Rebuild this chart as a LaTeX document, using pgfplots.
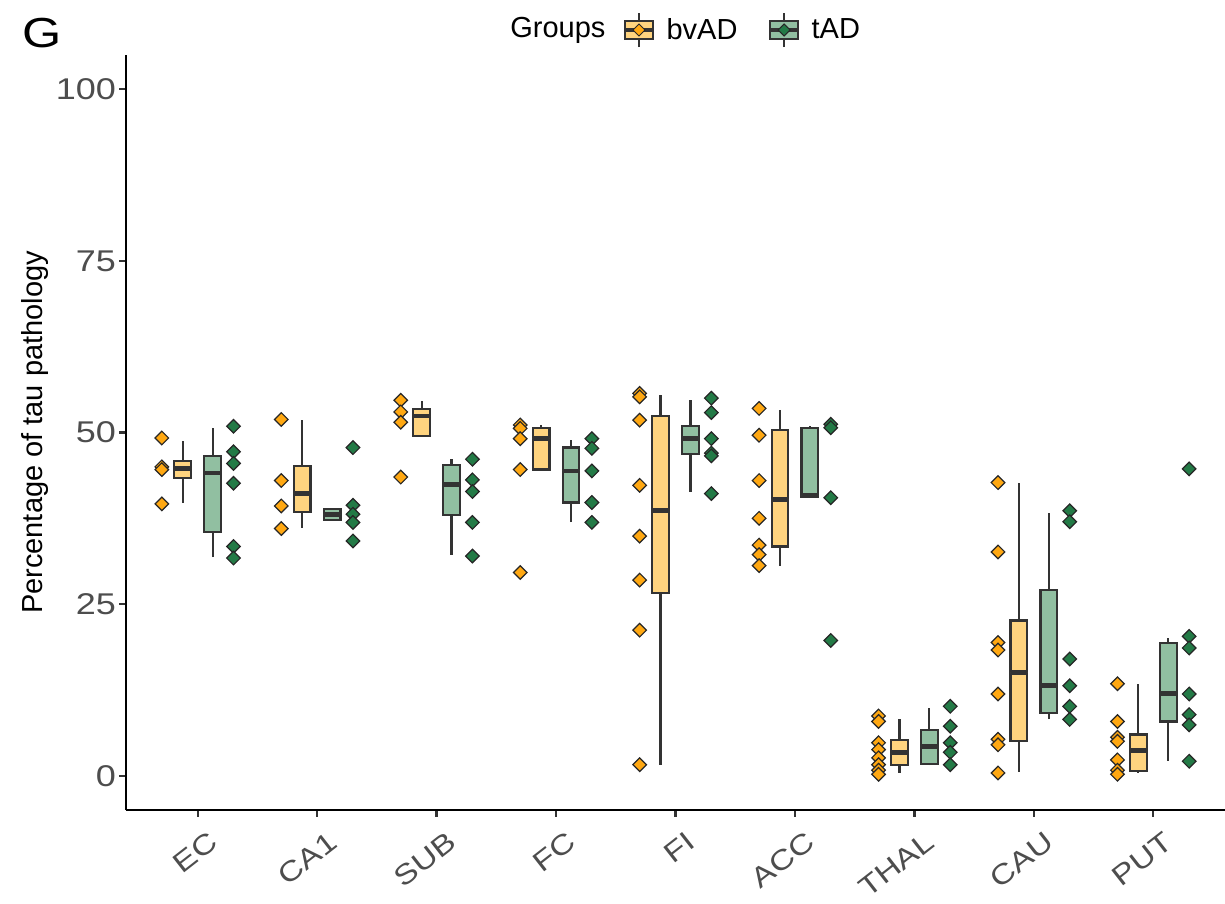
\documentclass[border=0pt]{standalone}
\usepackage{fontspec}
\setmainfont{Liberation Sans}
\newfontfamily\wfont{Liberation Sans}[FakeStretch=1.2]
\usepackage{pgfplots}
\pgfplotsset{compat=1.18}
\usepgfplotslibrary{statistics}
\definecolor{bvpt}{HTML}{FFA812}
\definecolor{bvfill}{HTML}{FFD47F}
\definecolor{tadpt}{HTML}{237A46}
\definecolor{tadfill}{HTML}{91BFA1}
\definecolor{tickgrey}{HTML}{4D4D4D}
\definecolor{boxline}{HTML}{333333}
\pgfplotsset{
  bvbox/.style={forget plot, draw=boxline, line width=1.1pt, fill=bvfill,
    boxplot/draw direction=y,
    boxplot/box extend=0.14, boxplot/whisker extend=0,
    boxplot/every median/.style={line width=2.4pt}},
  tadbox/.style={forget plot, draw=boxline, line width=1.1pt, fill=tadfill,
    boxplot/draw direction=y,
    boxplot/box extend=0.14, boxplot/whisker extend=0,
    boxplot/every median/.style={line width=2.4pt}},
  bvpts/.style={forget plot, only marks, mark=square*, mark size=2.4pt,
    mark options={rotate=45, fill=bvpt, draw=black!85, line width=0.6pt}},
  tadpts/.style={forget plot, only marks, mark=square*, mark size=2.4pt,
    mark options={rotate=45, fill=tadpt, draw=black!85, line width=0.6pt}},
}
% bvAD points (x = category - 0.30)
\pgfplotstableread{
x y
0.70 49.2
0.70 45.0
0.70 44.6
0.70 39.6
1.70 51.9
1.70 43.0
1.70 39.3
1.70 36.0
2.70 54.7
2.70 53.0
2.70 51.5
2.70 43.5
3.70 51.1
3.70 50.6
3.70 49.1
3.70 44.6
3.70 29.6
4.70 55.7
4.70 55.2
4.70 51.8
4.70 42.3
4.70 34.9
4.70 28.5
4.70 21.2
4.70 1.6
5.70 53.5
5.70 49.6
5.70 43.0
5.70 37.5
5.70 33.6
5.70 32.2
5.70 30.6
6.70 8.7
6.70 7.9
6.70 4.8
6.70 3.8
6.70 2.6
6.70 1.6
6.70 0.8
6.70 0.2
7.70 42.7
7.70 32.6
7.70 19.4
7.70 18.3
7.70 11.9
7.70 5.3
7.70 4.5
7.70 0.4
8.70 13.4
8.70 7.9
8.70 5.6
8.70 5.0
8.70 2.3
8.70 0.8
8.70 0.2
}\bvpoints
% tAD points (x = category + 0.30)
\pgfplotstableread{
x y
1.30 50.9
1.30 47.2
1.30 45.5
1.30 42.6
1.30 33.4
1.30 31.7
2.30 47.8
2.30 39.4
2.30 38.1
2.30 36.9
2.30 34.2
3.30 46.1
3.30 43.1
3.30 41.4
3.30 36.9
3.30 32.0
4.30 49.1
4.30 47.7
4.30 44.4
4.30 39.8
4.30 36.9
5.30 55.0
5.30 52.9
5.30 49.1
5.30 47.0
5.30 46.6
5.30 41.1
6.30 51.2
6.30 50.7
6.30 40.5
6.30 19.7
7.30 10.1
7.30 7.2
7.30 4.8
7.30 3.4
7.30 1.6
8.30 38.6
8.30 37.0
8.30 17.0
8.30 13.1
8.30 10.1
8.30 8.2
9.30 44.7
9.30 20.3
9.30 18.6
9.30 11.9
9.30 8.9
9.30 7.4
9.30 2.1
}\tadpoints
\newcommand{\bvb}[6]{\addplot[bvbox, boxplot prepared={draw position=#1, lower whisker=#2, lower quartile=#3, median=#4, upper quartile=#5, upper whisker=#6}] coordinates {};}
\newcommand{\tab}[6]{\addplot[tadbox, boxplot prepared={draw position=#1, lower whisker=#2, lower quartile=#3, median=#4, upper quartile=#5, upper whisker=#6}] coordinates {};}
\begin{document}
\begin{tikzpicture}
\begin{axis}[
  at={(0,0)}, anchor=south west,
  scale only axis, width=549.5pt, height=377.5pt,
  xmin=0.4, xmax=9.6, ymin=-5, ymax=105,
  axis x line*=bottom, axis y line*=left,
  axis line style={line width=1.1pt, black},
  xtick={1,2,3,4,5,6,7,8,9},
  xticklabels={EC,CA1,SUB,FC,FI,ACC,THAL,CAU,PUT},
  ytick={0,25,50,75,100},
  tick align=outside, major tick length=3.3pt,
  tick style={line width=1.1pt, boxline},
  /pgf/number format/assume math mode=true,
  xticklabel style={xshift=5pt, yshift=-6pt, rotate=38, anchor=north east, inner sep=0.5pt,
    font=\wfont\fontsize{14}{14}\selectfont, text=tickgrey},
  yticklabel style={inner sep=1.5pt, font=\wfont\fontsize{15}{15}\selectfont, text=tickgrey},
  ylabel={Percentage of tau pathology},
  ylabel style={at={(axis description cs:-0.0828,0.5)}, anchor=center,
    font=\fontsize{14.5}{14.5}\selectfont},
  legend columns=-1,
  legend style={at={(rel axis cs:0.4522,1.0331)}, anchor=west, draw=none,
    inner sep=0pt, font=\fontsize{14.5}{14.5}\selectfont,
    /tikz/every odd column/.append style={column sep=4pt},
    /tikz/every even column/.append style={column sep=13.5pt}},
]
\addplot[bvpts] table {\bvpoints};
\addplot[tadpts] table {\tadpoints};
\bvb{0.875}{39.7}{43.4}{44.8}{45.9}{48.8}
\bvb{1.875}{36.1}{38.4}{41.1}{45.1}{51.8}
\bvb{2.875}{49.5}{49.5}{52.4}{53.4}{54.6}
\bvb{3.875}{44.6}{44.6}{49.1}{50.6}{51.1}
\bvb{4.875}{1.6}{26.6}{38.6}{52.4}{55.5}
\bvb{5.875}{30.6}{33.4}{40.2}{50.4}{53.3}
\bvb{6.875}{0.4}{1.5}{3.4}{5.2}{8.2}
\bvb{7.875}{0.5}{5.0}{15.0}{22.6}{42.7}
\bvb{8.875}{0.4}{0.7}{3.7}{6.0}{13.3}
\tab{1.125}{31.8}{35.5}{44.1}{46.6}{50.7}
\tab{2.125}{37.3}{37.3}{38.1}{38.9}{38.9}
\tab{3.125}{32.2}{38.0}{42.4}{45.3}{46.1}
\tab{4.125}{36.9}{39.8}{44.4}{47.8}{48.9}
\tab{5.125}{41.3}{46.9}{49.1}{51.0}{54.7}
\tab{6.125}{40.6}{40.6}{40.8}{50.6}{51.0}
\tab{7.125}{1.5}{1.7}{4.3}{6.6}{9.8}
\tab{8.125}{8.2}{9.1}{13.1}{27.1}{38.2}
\tab{9.125}{2.2}{7.9}{12.0}{19.3}{20.0}
\addlegendimage{legend image code/.code={
  \draw[boxline, line width=1pt] (7pt,-8.5pt) -- (7pt,8.5pt);
  \draw[boxline, line width=1pt, fill=bvfill] (0pt,-4.5pt) rectangle (14pt,4.5pt);
  \draw[boxline, line width=1.6pt] (0pt,0pt) -- (14pt,0pt);
  \draw[black!85, line width=0.5pt, fill=bvpt] (7pt,-3pt) -- (10pt,0pt) -- (7pt,3pt) -- (4pt,0pt) -- cycle;
}}
\addlegendentry{bvAD}
\addlegendimage{legend image code/.code={
  \draw[boxline, line width=1pt] (7pt,-8.5pt) -- (7pt,8.5pt);
  \draw[boxline, line width=1pt, fill=tadfill] (0pt,-4.5pt) rectangle (14pt,4.5pt);
  \draw[boxline, line width=1.6pt] (0pt,0pt) -- (14pt,0pt);
  \draw[black!85, line width=0.5pt, fill=tadpt] (7pt,-3pt) -- (10pt,0pt) -- (7pt,3pt) -- (4pt,0pt) -- cycle;
}}
\addlegendentry{tAD}
\end{axis}
\node[anchor=west, inner sep=0pt, font=\fontsize{14.5}{14.5}\selectfont] at (192pt,390pt) {Groups};
\node[anchor=center, inner sep=0pt, font=\wfont\fontsize{21}{21}\selectfont] at (-42pt,388.5pt) {G};
\pgfresetboundingbox
\useasboundingbox (-63pt,-47pt) rectangle (549.5pt,405pt);
\end{tikzpicture}
\end{document}
